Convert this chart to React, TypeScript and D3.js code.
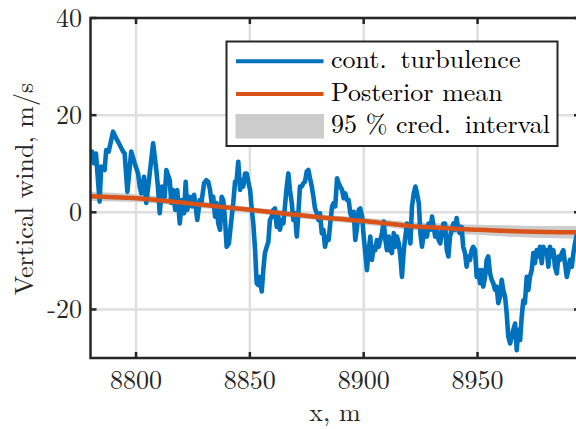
import React from 'react';
import * as d3 from 'd3';

// Continuous turbulence (x in m, vertical wind in m/s)
const turbX = [
  8780.7, 8781.5, 8782.4, 8784.0, 8784.7, 8786.2, 8786.9, 8788.0, 8789.9, 8791.3,
  8792.8, 8794.3, 8795.0, 8796.2, 8797.9, 8799.4, 8800.9, 8801.6, 8802.3, 8803.5,
  8804.5, 8805.6, 8807.5, 8808.9, 8809.6, 8810.4, 8811.4, 8812.6, 8813.3, 8814.8,
  8815.5, 8816.2, 8817.2, 8818.1, 8819.2, 8820.2, 8821.1, 8821.8, 8822.5, 8823.6,
  8824.6, 8825.5, 8826.9, 8828.0, 8828.7, 8829.9, 8830.9, 8831.7, 8832.5, 8833.2,
  8833.9, 8834.7, 8835.4, 8836.1, 8836.9, 8837.6, 8838.3, 8839.1, 8839.8, 8840.8,
  8841.7, 8842.7, 8843.5, 8844.2, 8844.9, 8845.7, 8846.4, 8847.1, 8847.9, 8848.6,
  8849.3, 8850.1, 8850.8, 8851.5, 8852.3, 8853.0, 8853.7, 8854.4, 8855.2, 8855.9,
  8856.6, 8857.4, 8858.1, 8858.8, 8859.6, 8860.3, 8861.0, 8861.8, 8862.5, 8863.2,
  8864.0, 8864.7, 8865.4, 8866.2, 8866.9, 8867.6, 8868.4, 8869.1, 8869.8, 8870.6,
  8871.3, 8872.0, 8872.8, 8873.5, 8874.2, 8875.0, 8875.7, 8876.4, 8877.2, 8877.9,
  8878.6, 8879.4, 8880.1, 8880.8, 8881.6, 8882.3, 8883.0, 8883.9, 8884.6, 8885.3,
  8886.1, 8886.8, 8887.5, 8888.3, 8889.0, 8889.7, 8890.5, 8891.2, 8891.9, 8892.7,
  8893.4, 8894.1, 8894.9, 8895.6, 8896.3, 8897.1, 8897.8, 8898.5, 8899.3, 8900.0,
  8900.7, 8901.4, 8902.2, 8902.9, 8903.6, 8904.4, 8905.1, 8905.8, 8906.6, 8907.3,
  8908.0, 8908.8, 8909.5, 8910.2, 8911.0, 8911.7, 8912.4, 8913.2, 8913.9, 8914.6,
  8915.4, 8916.1, 8916.8, 8917.6, 8918.3, 8919.0, 8919.8, 8920.5, 8921.2, 8922.0,
  8922.7, 8923.4, 8924.2, 8924.9, 8925.6, 8926.4, 8927.1, 8927.8, 8928.5, 8929.3,
  8930.0, 8930.7, 8931.4, 8932.2, 8932.9, 8933.6, 8935.0, 8935.7, 8936.5, 8937.2,
  8937.9, 8938.7, 8939.4, 8940.1, 8940.8, 8941.6, 8942.3, 8943.0, 8943.7, 8944.5,
  8945.2, 8945.9, 8946.7, 8947.4, 8948.1, 8948.9, 8949.6, 8950.3, 8951.1, 8951.8,
  8952.5, 8953.3, 8954.0, 8954.7, 8955.5, 8956.2, 8956.9, 8957.7, 8958.4, 8959.1,
  8959.9, 8960.6, 8961.3, 8962.1, 8962.8, 8963.5, 8964.3, 8965.0, 8965.7, 8966.5,
  8967.2, 8967.9, 8968.7, 8969.4, 8970.1, 8970.8, 8971.6, 8972.3, 8973.0, 8973.8,
  8974.5, 8975.2, 8976.0, 8976.7, 8977.4, 8978.2, 8978.9, 8979.6, 8980.4, 8981.1,
  8981.8, 8982.6, 8983.3, 8984.0, 8984.8, 8985.5, 8986.2, 8987.0, 8987.7, 8988.4,
  8989.2, 8989.9, 8990.6, 8991.4, 8992.1, 8992.8, 8993.6
];
const turbY = [
  12.5, 10.1, 12.1, 2.2, 9.4, 8.7, 12.8, 12.5, 16.6, 15.2,
  13.9, 12.5, 12.1, 4.2, 12.5, 10.1, 8.0, 5.3, 3.9, 7.3,
  1.9, 6.3, 14.2, 8.7, 5.3, -0.2, 5.3, 3.2, 8.7, 6.6,
  1.9, 4.6, 0.5, 4.6, -2.3, 2.5, -0.2, 6.3, 0.5, 3.2,
  1.2, 3.6, -1.6, 2.5, 1.9, 6.0, 6.6, 6.3, 4.6, 1.9,
  3.2, -0.9, 1.9, -2.3, -3.6, 3.2, 2.5, -1.6, -7.1, -6.4,
  -2.3, 1.9, 6.3, 6.6, 10.4, 4.6, 6.6, 5.3, 8.0, 8.0,
  6.3, 4.6, 0.8, -2.3, -7.8, -14.6, -15.0, -13.3, -16.3, -11.9,
  -8.4, -7.1, -6.1, -1.6, -0.9, 0.5, 0.8, -3.0, -0.9, -3.6,
  -1.6, -2.3, 1.2, 5.3, 8.0, 4.6, 1.9, -1.6, -0.2, -5.0,
  -0.2, 5.3, 5.3, 6.0, 6.3, 8.4, 8.7, 7.0, 5.3, 3.2,
  0.8, -0.2, -1.6, -0.2, -4.3, -3.6, -7.1, -5.0, -5.7, -2.3,
  1.2, 1.9, 1.2, 7.0, 6.0, 5.3, 4.6, 2.9, 3.9, 2.5,
  2.5, -0.2, -1.2, 0.1, -5.7, -3.0, 0.5, 0.8, -0.9, -5.0,
  -8.4, -11.9, -7.8, -5.0, -9.8, -7.1, -7.8, -5.7, -7.1, -5.7,
  -4.3, -1.9, -5.7, -7.8, -5.0, -7.8, -8.4, -4.3, -7.1, -5.0,
  -6.4, -9.1, -13.3, -7.8, -5.0, -2.3, -3.6, -6.4, 1.2, 3.9,
  5.3, 3.9, 1.9, -4.3, -7.1, -4.3, -3.0, -5.0, -2.3, -3.6,
  -0.9, -3.0, -5.0, -3.6, -5.7, -6.4, -2.3, -2.3, -7.8, -9.1,
  -5.0, -3.6, -2.3, -3.6, -1.2, -3.6, -4.3, -3.0, -7.1, -8.4,
  -11.2, -9.1, -9.8, -7.8, -7.1, -7.8, -13.3, -11.9, -14.6, -11.9,
  -15.3, -13.3, -9.8, -9.1, -12.6, -13.9, -14.6, -16.0, -15.3, -18.7,
  -17.4, -13.9, -16.0, -17.4, -20.8, -25.6, -27.0, -25.6, -24.2, -22.9,
  -28.4, -24.2, -26.3, -21.5, -18.1, -18.7, -13.3, -16.0, -13.3, -11.9,
  -8.4, -10.5, -7.8, -9.1, -7.1, -10.5, -7.1, -8.4, -7.8, -11.2,
  -7.1, -9.1, -7.8, -11.2, -12.6, -9.1, -9.8, -8.4, -7.8, -10.5,
  -13.3, -11.9, -9.8, -11.2, -8.4, -6.4, -4.5
];

// Posterior mean and 95 % credible interval half-width
const meanX = [8780, 8790, 8800, 8810, 8820, 8830, 8840, 8850, 8860, 8870, 8880, 8890,
  8900, 8910, 8920, 8930, 8940, 8950, 8960, 8970, 8980, 8990, 8995];
const meanY = [3.3, 3.1, 2.9, 2.5, 2.0, 1.5, 1.0, 0.5, 0.0, -0.5, -1.0, -1.4,
  -1.8, -2.3, -2.8, -3.1, -3.4, -3.6, -3.8, -3.95, -4.05, -4.1, -4.1];
const ciHalf = [1.0, 0.9, 0.8, 0.75, 0.7, 0.65, 0.6, 0.6, 0.6, 0.6, 0.6, 0.65,
  0.7, 0.75, 0.8, 0.9, 1.0, 1.05, 1.15, 1.2, 1.25, 1.3, 1.3];

const xTicks = [8800, 8850, 8900, 8950];
const yTicks = [-20, 0, 20, 40];
const xDomain = [8780, 8995];
const yDomain = [-30, 40];
// thin space after the sentence-ending period mimics LaTeX's wider spacing
const legendLabels = ['cont.\u2009 turbulence', 'Posterior mean', '95 % cred.\u2009 interval'];
const xLabel = 'x, m';
const yLabel = 'Vertical wind, m/s';

const BLUE = '#0072BD';
const ORANGE = '#D95319';
const BAND = '#cccccc';
const AXIS = '#262626';
const GRID = '#dfdfdf';
const FONT = '"Latin Modern Roman"';

export default function App() {
  const W = 576, H = 429;
  const L = 90.5, R = 580, T = 18, B = 358;
  const x = d3.scaleLinear().domain(xDomain).range([L, R]);
  const y = d3.scaleLinear().domain(yDomain).range([B, T]);

  const turb = turbX.map((v, i) => [v, turbY[i]] as [number, number]);
  const mean = meanX.map((v, i) => ({ x: v, m: meanY[i], h: ciHalf[i] }));

  const line = d3.line<[number, number]>().x(d => x(d[0])).y(d => y(d[1]));
  const meanLine = d3.line<any>().x(d => x(d.x)).y(d => y(d.m)).curve(d3.curveMonotoneX);
  const band = d3.area<any>().x(d => x(d.x)).y0(d => y(d.m - d.h)).y1(d => y(d.m + d.h)).curve(d3.curveMonotoneX);

  const tickLen = 6;
  const sw = 2.5;

  const legX = 226.5, legY = 41.5, legW = 331, legH = 104.5;
  const rowY = [61.3, 94];
  const textStyle = { fontFamily: FONT, fontSize: '26px' };

  return (
    <svg width={W} height={H} style={{ position: 'absolute', left: 0, top: 0, background: '#fff' }}>
      <rect x={0} y={0} width={W} height={H} fill="#fff" />
      <defs>
        <clipPath id="plotclip">
          <rect x={L} y={T} width={R - L} height={B - T} />
        </clipPath>
      </defs>
      {/* grid */}
      {xTicks.map(t => (
        <line key={'gx' + t} x1={x(t)} x2={x(t)} y1={T} y2={B} stroke={GRID} strokeWidth={sw} />
      ))}
      {yTicks.map(t => (
        <line key={'gy' + t} x1={L} x2={R} y1={y(t)} y2={y(t)} stroke={GRID} strokeWidth={sw} />
      ))}
      <g clipPath="url(#plotclip)">
        <path d={band(mean) || ''} fill={BAND} />
        <path d={line(turb) || ''} fill="none" stroke={BLUE} strokeWidth={4.6} strokeLinejoin="round" strokeLinecap="round" />
        <path d={meanLine(mean) || ''} fill="none" stroke={ORANGE} strokeWidth={4.5} strokeLinejoin="round" />
      </g>
      {/* axes box */}
      <rect x={L} y={T} width={R - L} height={B - T} fill="none" stroke={AXIS} strokeWidth={sw} />
      {xTicks.map(t => (
        <g key={'tx' + t}>
          <line x1={x(t)} x2={x(t)} y1={B} y2={B - tickLen} stroke={AXIS} strokeWidth={sw} />
          <line x1={x(t)} x2={x(t)} y1={T} y2={T + tickLen} stroke={AXIS} strokeWidth={sw} />
          <text x={x(t)} y={389} textAnchor="middle" style={textStyle} fill={AXIS}>{t}</text>
        </g>
      ))}
      {yTicks.map(t => (
        <g key={'ty' + t}>
          <line x1={L} x2={L + tickLen} y1={y(t)} y2={y(t)} stroke={AXIS} strokeWidth={sw} />
          <line x1={R} x2={R - tickLen} y1={y(t)} y2={y(t)} stroke={AXIS} strokeWidth={sw} />
          <text x={82} y={y(t) + 8.5} textAnchor="end" style={textStyle} fill={AXIS}>{t}</text>
        </g>
      ))}
      {/* axis labels */}
      <text x={335} y={420.5} textAnchor="middle" style={textStyle} fill={AXIS}>{xLabel}</text>
      <text transform="translate(33,189) rotate(-90)" textAnchor="middle" style={textStyle} fill={AXIS}>{yLabel}</text>
      {/* legend */}
      <rect x={legX} y={legY} width={legW} height={legH} fill="#fff" stroke={AXIS} strokeWidth={2} />
      <line x1={236} x2={323.5} y1={rowY[0]} y2={rowY[0]} stroke={BLUE} strokeWidth={4} />
      <line x1={236} x2={323.5} y1={rowY[1]} y2={rowY[1]} stroke={ORANGE} strokeWidth={4} />
      <rect x={235.5} y={114} width={88.5} height={24.5} fill={BAND} />
      {legendLabels.map((s, i) => (
        <text key={i} x={331} y={[68.3, 100.5, 133.3][i]} style={textStyle} fill="#000">{s}</text>
      ))}
    </svg>
  );
}
